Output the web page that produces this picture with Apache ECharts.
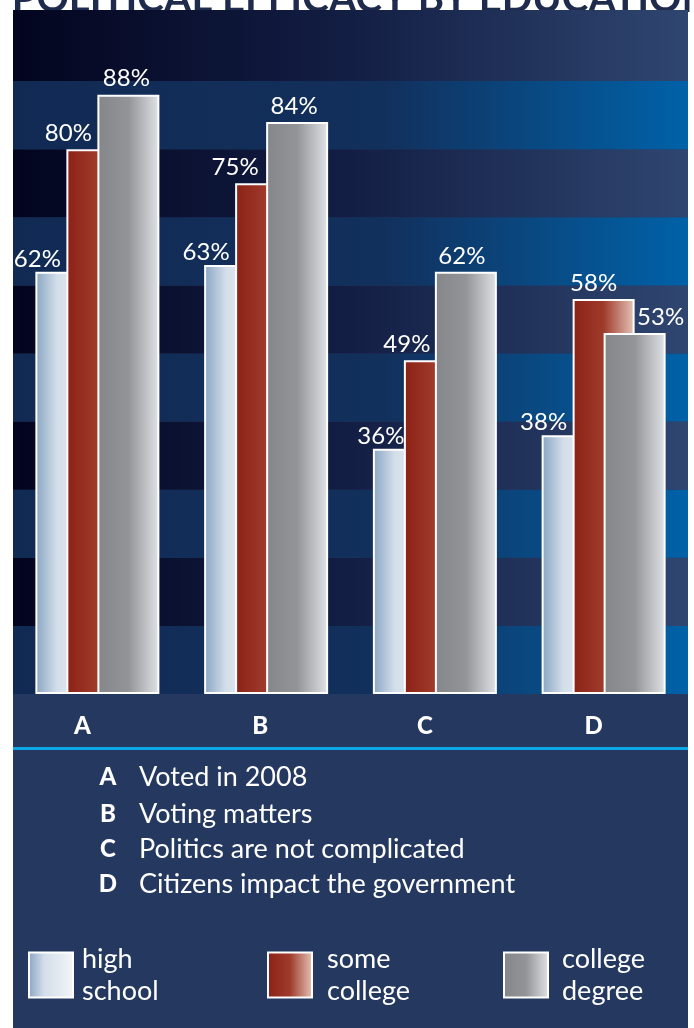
<!DOCTYPE html>
<html><head><meta charset="utf-8">
<script src="https://cdn.jsdelivr.net/npm/echarts@6/dist/echarts.min.js"></script>
<style>html,body{margin:0;padding:0;background:#fff}#c{width:694px;height:1028px}</style>
</head><body><div id="c"></div>
<script>
// ---- data ----
const titleText = 'POLITICAL EFFICACY BY EDUCATION';
const categories = ['A', 'B', 'C', 'D'];
const descriptions = ['Voted in 2008', 'Voting matters', 'Politics are not complicated', 'Citizens impact the government'];
const seriesNames = ['high school', 'some college', 'college degree'];
const highSchool = [62, 63, 36, 38];
const someCollege = [80, 75, 49, 58];
const collegeDegree = [88, 84, 62, 53];

// ---- styling (not data) ----
const labelDx = [[2, 2, 8, 2], [2, 0, 3, 21], [29, 28, 27, 57]];
const labelDy = [-1, -4, -4];
const catPad = { A: 30, B: 12, C: 20, D: 20 };
const font = 'Lato';

const chart = echarts.init(document.getElementById('c'), null, { renderer: 'canvas' });
function grad(stops) {
  return new echarts.graphic.LinearGradient(0, 0, 1, 0, stops.map(s => ({ offset: s[0], color: s[1] })));
}
const darkBand = () => grad([[0, '#03051f'], [0.5, '#131e44'], [1, '#2f4670']]);
const blueBand = () => grad([[0, '#112a54'], [0.55, '#12305c'], [1, '#0062a8']]);
const barColors = [
  grad([[0, '#88a4c3'], [0.35, '#d3deea'], [1, '#f4f6f8']]),
  grad([[0, '#8c2117'], [0.5, '#9f3b2b'], [1, '#e6c6ba']]),
  grad([[0, '#85868a'], [0.5, '#939498'], [1, '#e0e3e7']])
];
const values = [highSchool, someCollege, collegeDegree];

const series = seriesNames.map((name, s) => ({
  type: 'bar',
  name: name,
  barWidth: 62,
  barGap: '-50%',
  itemStyle: { color: barColors[s], borderColor: '#ffffff', borderWidth: 2 },
  label: {
    show: true, formatter: '{c}%', color: '#ffffff', fontFamily: font, fontSize: 24,
    align: 'center', verticalAlign: 'bottom'
  },
  data: values[s].map((v, i) => ({ value: v, label: { position: [labelDx[s][i], labelDy[s]] } }))
}));

const rich = {};
categories.forEach(c => {
  rich[c] = { color: '#fff', fontFamily: font, fontWeight: 900, fontSize: 24, padding: [0, catPad[c], 0, 0] };
});

const graphic = [
  { type: 'text', z: -20, x: 362, y: -1,
    style: { text: titleText, fill: '#1e2b4d', font: 'bold 40px ' + font, align: 'center', verticalAlign: 'middle' } },
  { type: 'rect', z: -10, shape: { x: 13, y: 10, width: 675, height: 1018 }, style: { fill: '#243860' } },
  { type: 'rect', z: -9, shape: { x: 13, y: 10, width: 675, height: 6 }, style: { fill: darkBand() } },
  { type: 'rect', z: 5, shape: { x: 13, y: 747, width: 675, height: 3 }, style: { fill: '#0aa6e6' } }
];
const lineY = [777, 814, 849, 884];
categories.forEach((c, i) => {
  graphic.push({ type: 'text', z: 5, x: 108, y: lineY[i],
    style: { text: c, fill: '#fff', font: '900 24px ' + font, align: 'center', verticalAlign: 'middle' } });
  graphic.push({ type: 'text', z: 5, x: 139, y: lineY[i],
    style: { text: descriptions[i], fill: '#fff', font: '27px ' + font, align: 'left', verticalAlign: 'middle' } });
});

const legendLeft = [28, 267, 503];
const legendPad = [4, 10, 9];
const legends = seriesNames.map((n, i) => ({
  data: [n], left: legendLeft[i], top: 943, orient: 'horizontal', icon: 'rect',
  itemWidth: 44, itemHeight: 45, selectedMode: false, padding: 0,
  itemStyle: { borderColor: '#ffffff', borderWidth: 2 },
  formatter: name => name.replace(' ', '\n'),
  textStyle: { color: '#fff', fontFamily: font, fontSize: 27, lineHeight: 32, padding: [0, 0, 0, legendPad[i]] }
}));

chart.setOption({
  animation: false,
  backgroundColor: 'transparent',
  grid: { left: 13, right: 6, top: 13, bottom: 334, containLabel: false },
  xAxis: {
    type: 'category', data: categories,
    axisLine: { show: false }, axisTick: { show: false },
    axisLabel: { margin: 20, formatter: v => '{' + v + '|' + v + '}', rich: rich }
  },
  yAxis: {
    type: 'value', min: 0, max: 100, interval: 10,
    axisLabel: { show: false }, axisLine: { show: false }, axisTick: { show: false },
    splitLine: { show: false },
    splitArea: { show: true, areaStyle: { color: [blueBand(), darkBand()] } }
  },
  legend: legends,
  graphic: graphic,
  series: series
});
</script>
</body></html>
